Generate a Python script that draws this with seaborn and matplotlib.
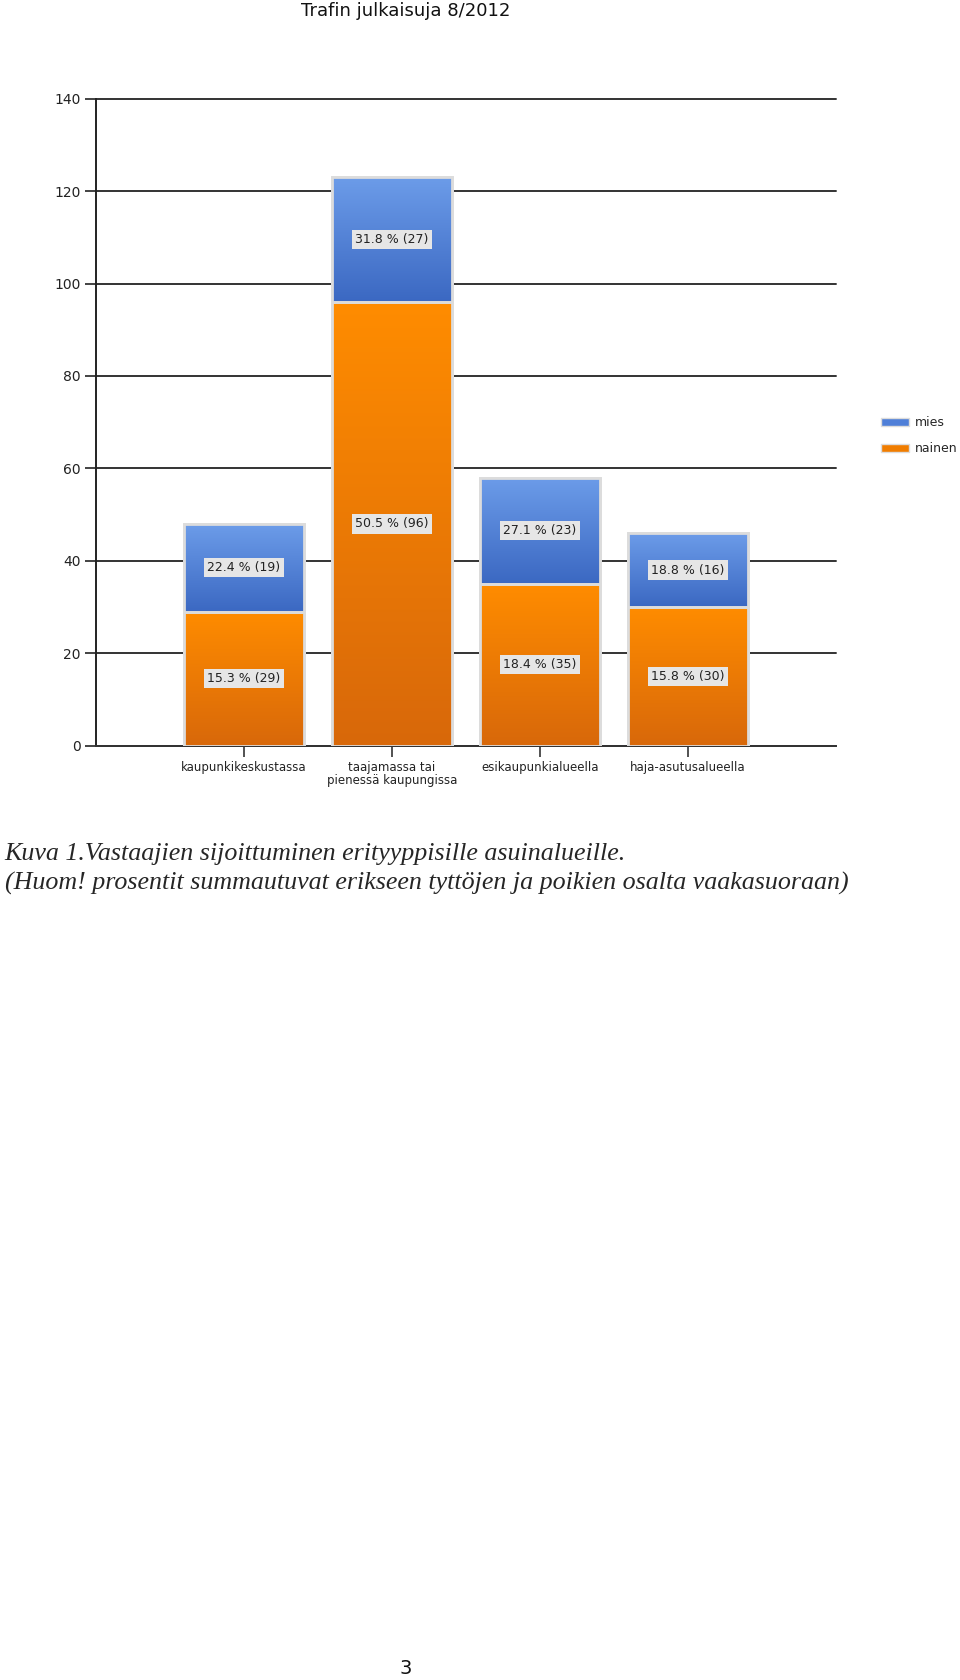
import numpy as np
import pandas as pd
import matplotlib
matplotlib.use("Agg")
import matplotlib.pyplot as plt
import seaborn as sns
from matplotlib.colors import LinearSegmentedColormap
from matplotlib.patches import Patch, Rectangle

categories = ["kaupunkikeskustassa", "taajamassa tai\npienessä kaupungissa",
              "esikaupunkialueella", "haja-asutusalueella"]
nainen = [29, 96, 35, 30]
mies = [19, 27, 23, 16]
nainen_pct = [15.3, 50.5, 18.4, 15.8]
mies_pct = [22.4, 31.8, 27.1, 18.8]
yticks = [0, 20, 40, 60, 80, 100, 120, 140]

sns.set_theme(style="white")
plt.rcParams['font.family'] = ['DejaVu Sans']

df = pd.DataFrame({"cat": categories, "nainen": nainen, "mies": mies})
df["total"] = df["nainen"] + df["mies"]

fig = plt.figure(figsize=(9.6, 16.8), dpi=100)
ax = fig.add_axes([0.1, 0.5561, 0.771, 0.3852])

blue_top, blue_bot = "#6c9ce9", "#3b68c2"
orange_top, orange_bot = "#ff8c00", "#d8680a"

sns.barplot(data=df, x="cat", y="total", color=blue_bot, width=0.81,
            edgecolor="#dcdcdc", linewidth=2, saturation=1, ax=ax, zorder=3)
sns.barplot(data=df, x="cat", y="nainen", color=orange_bot, width=0.81,
            edgecolor="#dcdcdc", linewidth=2, saturation=1, ax=ax, zorder=3)

# gradients clipped to the visible part of each bar segment
n = len(categories)
cm_blue = LinearSegmentedColormap.from_list("b", [blue_bot, blue_top])
cm_orange = LinearSegmentedColormap.from_list("o", [orange_bot, orange_top])
grad = np.linspace(0, 1, 256).reshape(-1, 1)
patches = list(ax.patches)
for i, p in enumerate(patches):
    x0, w = p.get_x(), p.get_width()
    if i < n:
        cmap = cm_blue
        y0 = patches[n + i].get_height()
        y1 = p.get_y() + p.get_height()
    else:
        cmap = cm_orange
        y0 = p.get_y()
        y1 = p.get_y() + p.get_height()
    im = ax.imshow(grad, cmap=cmap, aspect="auto", origin="lower",
                   extent=[x0, x0 + w, y0, y1], zorder=3.5)
    clip = Rectangle((x0, y0), w, y1 - y0, transform=ax.transData)
    im.set_clip_path(clip)
    ax.add_patch(Rectangle((x0, y0), w, y1 - y0, fill=False,
                           edgecolor="#dcdcdc", linewidth=2, zorder=3.8))

ax.set_xlim(-1, n)
ax.set_ylim(0, 140)
ax.set_yticks(yticks)
ax.yaxis.grid(True, color="#333333", linewidth=1.4, zorder=0)
for gl in ax.get_ygridlines():
    gl.set_clip_on(False)
ax.set_axisbelow(True)
ax.set_xlabel("")
ax.set_ylabel("")
ax.set_xticks(range(n))
ax.set_xticklabels(categories, fontsize=8.5, color="#222222", linespacing=1.0)
ax.tick_params(axis="y", labelsize=10, colors="#222222", length=8, width=1.2, left=True, pad=3)
ax.tick_params(axis="x", length=8, width=1.2, bottom=True, pad=3, color="#333333")
for s in ["top", "right"]:
    ax.spines[s].set_visible(False)
ax.spines["left"].set_color("#222222")
ax.spines["left"].set_linewidth(1.4)
ax.spines["bottom"].set_color("#333333")
ax.spines["bottom"].set_linewidth(1.4)

box = dict(boxstyle="square,pad=0.25", facecolor="#e6e6e6", edgecolor="none")
for i in range(n):
    ax.text(i, nainen[i] / 2, f"{nainen_pct[i]} % ({nainen[i]})", ha="center", va="center",
            fontsize=9, color="#222222", bbox=box, zorder=5)
    ax.text(i, nainen[i] + mies[i] / 2, f"{mies_pct[i]} % ({mies[i]})", ha="center", va="center",
            fontsize=9, color="#222222", bbox=box, zorder=5)

# legend
handles = [Patch(facecolor="#4f7fd8", edgecolor="#dcdcdc", label="mies"),
           Patch(facecolor="#f07d00", edgecolor="#dcdcdc", label="nainen")]
fig.legend(handles=handles, loc="upper left", bbox_to_anchor=(0.918, 0.7524),
           frameon=False, fontsize=9, handlelength=2.2, handleheight=0.6,
           labelspacing=1.05, handletextpad=0.5, borderaxespad=0, borderpad=0)

fig.text(0.423, 0.9935, "Trafin julkaisuja 8/2012", ha="center", va="center",
         fontsize=13, color="#111111")
fig.text(0.005, 0.4917, "Kuva 1.Vastaajien sijoittuminen erityyppisille asuinalueille.",
         ha="left", va="center", fontsize=18.7, style="italic", family="Liberation Serif")
fig.text(0.005, 0.4740, "(Huom! prosentit summautuvat erikseen tyttöjen ja poikien osalta vaakasuoraan)",
         ha="left", va="center", fontsize=18.7, style="italic", family="Liberation Serif")
fig.text(0.423, 0.0071, "3", ha="center", va="center", fontsize=14, color="#111111")

fig.savefig("out.png", dpi=100)
